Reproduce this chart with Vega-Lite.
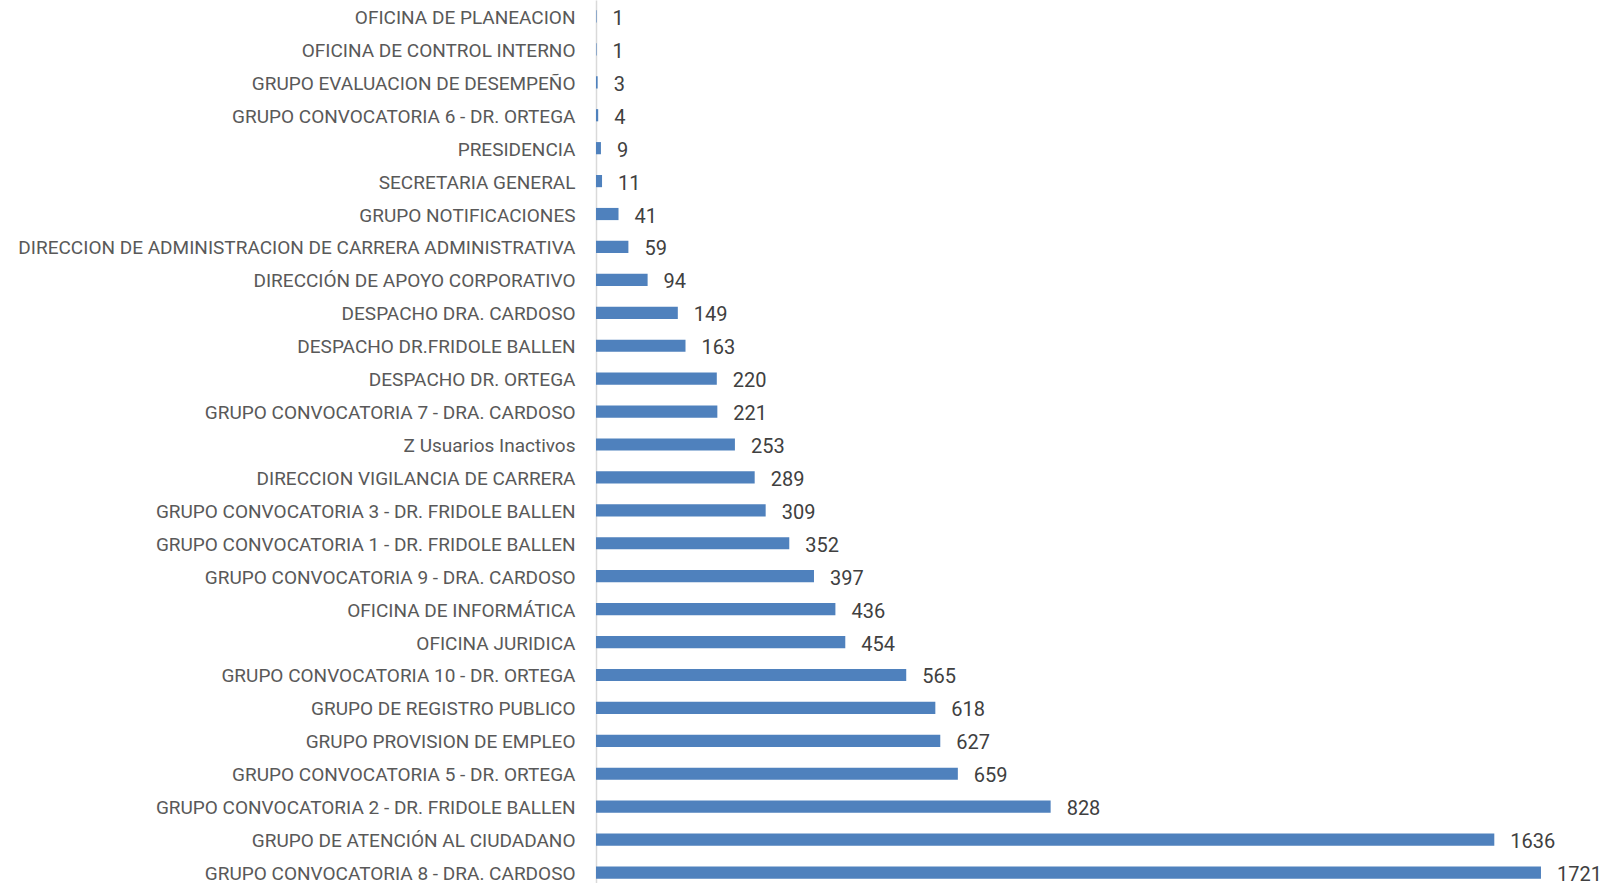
{
  "$schema": "https://vega.github.io/schema/vega-lite/v6.json",
  "autosize": {"type": "none"},
  "padding": {"left": 596, "top": 0, "right": 0, "bottom": 0},
  "width": 1018,
  "height": 889,
  "background": "white",
  "config": {"view": {"stroke": null}},
  "data": {"values": [
    {"area": "OFICINA DE PLANEACION", "n": 1},
    {"area": "OFICINA DE CONTROL INTERNO", "n": 1},
    {"area": "GRUPO EVALUACION DE DESEMPEÑO", "n": 3},
    {"area": "GRUPO CONVOCATORIA 6 - DR. ORTEGA", "n": 4},
    {"area": "PRESIDENCIA", "n": 9},
    {"area": "SECRETARIA GENERAL", "n": 11},
    {"area": "GRUPO NOTIFICACIONES", "n": 41},
    {"area": "DIRECCION DE ADMINISTRACION DE  CARRERA ADMINISTRATIVA", "n": 59},
    {"area": "DIRECCIÓN DE APOYO CORPORATIVO", "n": 94},
    {"area": "DESPACHO DRA. CARDOSO", "n": 149},
    {"area": "DESPACHO DR.FRIDOLE BALLEN", "n": 163},
    {"area": "DESPACHO DR. ORTEGA", "n": 220},
    {"area": "GRUPO CONVOCATORIA 7 - DRA. CARDOSO", "n": 221},
    {"area": "Z Usuarios Inactivos", "n": 253},
    {"area": "DIRECCION VIGILANCIA DE CARRERA", "n": 289},
    {"area": "GRUPO CONVOCATORIA 3 - DR. FRIDOLE BALLEN", "n": 309},
    {"area": "GRUPO CONVOCATORIA 1 - DR. FRIDOLE BALLEN", "n": 352},
    {"area": "GRUPO CONVOCATORIA 9 - DRA. CARDOSO", "n": 397},
    {"area": "OFICINA DE INFORMÁTICA", "n": 436},
    {"area": "OFICINA JURIDICA", "n": 454},
    {"area": "GRUPO CONVOCATORIA 10 - DR. ORTEGA", "n": 565},
    {"area": "GRUPO DE REGISTRO PUBLICO", "n": 618},
    {"area": "GRUPO PROVISION DE EMPLEO", "n": 627},
    {"area": "GRUPO CONVOCATORIA 5 - DR. ORTEGA", "n": 659},
    {"area": "GRUPO CONVOCATORIA 2 - DR. FRIDOLE BALLEN", "n": 828},
    {"area": "GRUPO DE ATENCIÓN AL CIUDADANO", "n": 1636},
    {"area": "GRUPO CONVOCATORIA 8 - DRA. CARDOSO", "n": 1721}
  ]},
  "encoding": {
    "y": {
      "field": "area", "type": "nominal", "sort": null,
      "scale": {"paddingInner": 0.63, "paddingOuter": 0.315},
      "axis": {
        "title": null, "ticks": false, "domain": true, "domainColor": "#D9D9D9", "domainWidth": 1.5,
        "labelPadding": 21, "labelFont": "Roboto", "labelFontSize": 19, "labelOffset": 1.5,
        "labelColor": "#595959", "labelLimit": 0
      }
    },
    "x": {
      "field": "n", "type": "quantitative",
      "scale": {"domain": [0, 1854], "nice": false},
      "axis": null
    }
  },
  "layer": [
    {"mark": {"type": "bar", "color": "#4F81BD"}},
    {"mark": {"type": "text", "align": "left", "baseline": "middle", "dx": 16, "dy": 2.5,
      "font": "Roboto", "fontSize": 20, "color": "#404040"},
     "encoding": {"text": {"field": "n", "type": "quantitative"}}}
  ]
}
